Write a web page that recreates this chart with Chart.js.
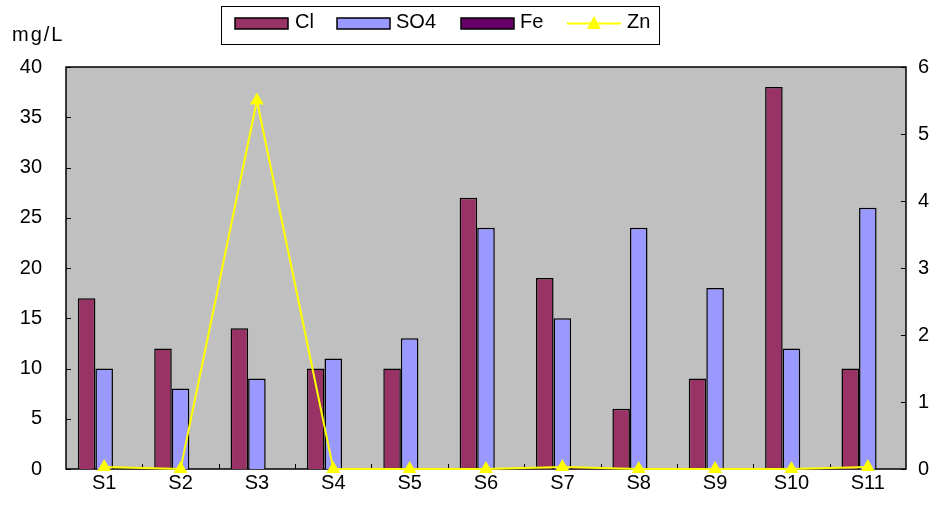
<!DOCTYPE html>
<html>
<head>
<meta charset="utf-8">
<script src="https://cdn.jsdelivr.net/npm/chart.js@4/dist/chart.umd.min.js"></script>
<style>
  html, body { margin: 0; padding: 0; background: #fff; }
  #wrap { width: 938px; height: 514px; }
</style>
</head>
<body>
<div id="wrap"><canvas id="c"></canvas></div>
<script>
const sites = ['S1', 'S2', 'S3', 'S4', 'S5', 'S6', 'S7', 'S8', 'S9', 'S10', 'S11']
const cl = [17, 12, 14, 10, 10, 27, 19, 6, 9, 38, 10]
const so4 = [10, 8, 9, 11, 13, 24, 15, 24, 18, 12, 26]
const fe = [0, 0, 0, 0, 0, 0, 0.03, 0, 0, 0, 0]
const zn = [0.03, 0, 5.5, 0, 0, 0, 0.03, 0, 0, 0, 0.03]

const FONT = 'Liberation Sans, Arial, sans-serif'
Chart.defaults.font.family = FONT
Chart.defaults.font.size = 20
Chart.defaults.color = '#000'

// grey plot area, border and the inside tick marks
const plotFrame = {
  id: 'plotFrame',
  beforeDatasetsDraw (chart) {
    const { ctx, chartArea: a, scales } = chart
    ctx.save()
    ctx.fillStyle = '#C0C0C0'
    ctx.fillRect(a.left, a.top, a.width, a.height)
    ctx.strokeStyle = '#000'
    ctx.lineWidth = 1.5
    ctx.strokeRect(a.left, a.top, a.width, a.height)
    ctx.lineWidth = 1
    ctx.beginPath()
    scales.y.ticks.forEach(t => {
      const py = Math.round(scales.y.getPixelForValue(t.value)) + 0.5
      ctx.moveTo(a.left, py); ctx.lineTo(a.left + 5, py)
    })
    scales.y1.ticks.forEach(t => {
      const py = Math.round(scales.y1.getPixelForValue(t.value)) + 0.5
      ctx.moveTo(a.right, py); ctx.lineTo(a.right - 5, py)
    })
    const n = sites.length
    for (let i = 1; i < n; i++) {
      const px = Math.round(a.left + i * a.width / n) + 0.5
      ctx.moveTo(px, a.bottom); ctx.lineTo(px, a.bottom - 5)
    }
    ctx.stroke()
    ctx.restore()
  }
}

// boxed legend at the top and the unit label
const boxLegend = {
  id: 'boxLegend',
  afterDraw (chart) {
    const { ctx } = chart
    ctx.save()
    ctx.strokeStyle = '#000'
    ctx.lineWidth = 1
    ctx.strokeRect(221.5, 6.5, 438, 38)
    ctx.font = '20px ' + FONT
    ctx.textBaseline = 'middle'
    ctx.fillStyle = '#000'
    ctx.letterSpacing = '2px'
    ctx.fillText('mg/L', 12, 35)
    ctx.letterSpacing = '0px'

    const items = [
      { x: 235, text: 295 },
      { x: 337, text: 396 },
      { x: 461, text: 520 },
      { x: 567, text: 627 }
    ]
    chart.data.datasets.forEach((ds, i) => {
      const it = items[i]
      if (ds.type === 'line') {
        ctx.strokeStyle = ds.borderColor
        ctx.lineWidth = 2
        ctx.beginPath(); ctx.moveTo(it.x, 23.5); ctx.lineTo(it.x + 54, 23.5); ctx.stroke()
        ctx.fillStyle = ds.borderColor
        ctx.beginPath()
        ctx.moveTo(it.x + 27, 16); ctx.lineTo(it.x + 34, 29); ctx.lineTo(it.x + 20, 29)
        ctx.closePath(); ctx.fill()
      } else {
        ctx.fillStyle = ds.backgroundColor
        ctx.fillRect(it.x, 18, 53, 11)
        ctx.strokeStyle = '#000'
        ctx.lineWidth = 1.5
        ctx.strokeRect(it.x, 18, 53, 11)
      }
      ctx.fillStyle = '#000'
      ctx.fillText(ds.label, it.text, 22)
    })
    ctx.restore()
  }
}

const barStyle = { borderColor: '#000', borderWidth: 1.5, barPercentage: 1, categoryPercentage: 0.69 }

new Chart(document.getElementById('c'), {
  type: 'bar',
  data: {
    labels: sites,
    datasets: [
      { label: 'Cl', data: cl, backgroundColor: '#993366', yAxisID: 'y', order: 2, ...barStyle },
      { label: 'SO4', data: so4, backgroundColor: '#9999FF', yAxisID: 'y', order: 2, ...barStyle },
      { label: 'Fe', data: fe, backgroundColor: '#660066', yAxisID: 'y1', order: 2, ...barStyle },
      {
        type: 'line',
        label: 'Zn',
        data: zn,
        yAxisID: 'y1',
        order: 1,
        clip: false,
        borderColor: '#FFFF00',
        backgroundColor: '#FFFF00',
        borderWidth: 2,
        pointStyle: 'triangle',
        pointRadius: 8,
        pointBorderWidth: 0,
        tension: 0
      }
    ]
  },
  options: {
    responsive: true,
    maintainAspectRatio: false,
    animation: false,
    layout: { padding: { top: 67, left: 0, right: 0, bottom: 0 } },
    plugins: {
      legend: { display: false },
      tooltip: { enabled: false }
    },
    scales: {
      x: {
        grid: { display: false, drawTicks: false },
        border: { display: false },
        ticks: { padding: 2, maxRotation: 0 },
        afterFit: s => { s.height = 45 }
      },
      y: {
        position: 'left',
        min: 0,
        max: 40,
        ticks: { stepSize: 5, padding: 24 },
        grid: { display: false, drawTicks: false },
        border: { display: false },
        afterFit: s => { s.width = 66 }
      },
      y1: {
        position: 'right',
        min: 0,
        max: 6,
        ticks: { stepSize: 1, padding: 12 },
        grid: { display: false, drawTicks: false },
        border: { display: false },
        afterFit: s => { s.width = 32 }
      }
    }
  },
  plugins: [plotFrame, boxLegend]
})
</script>
</body>
</html>
